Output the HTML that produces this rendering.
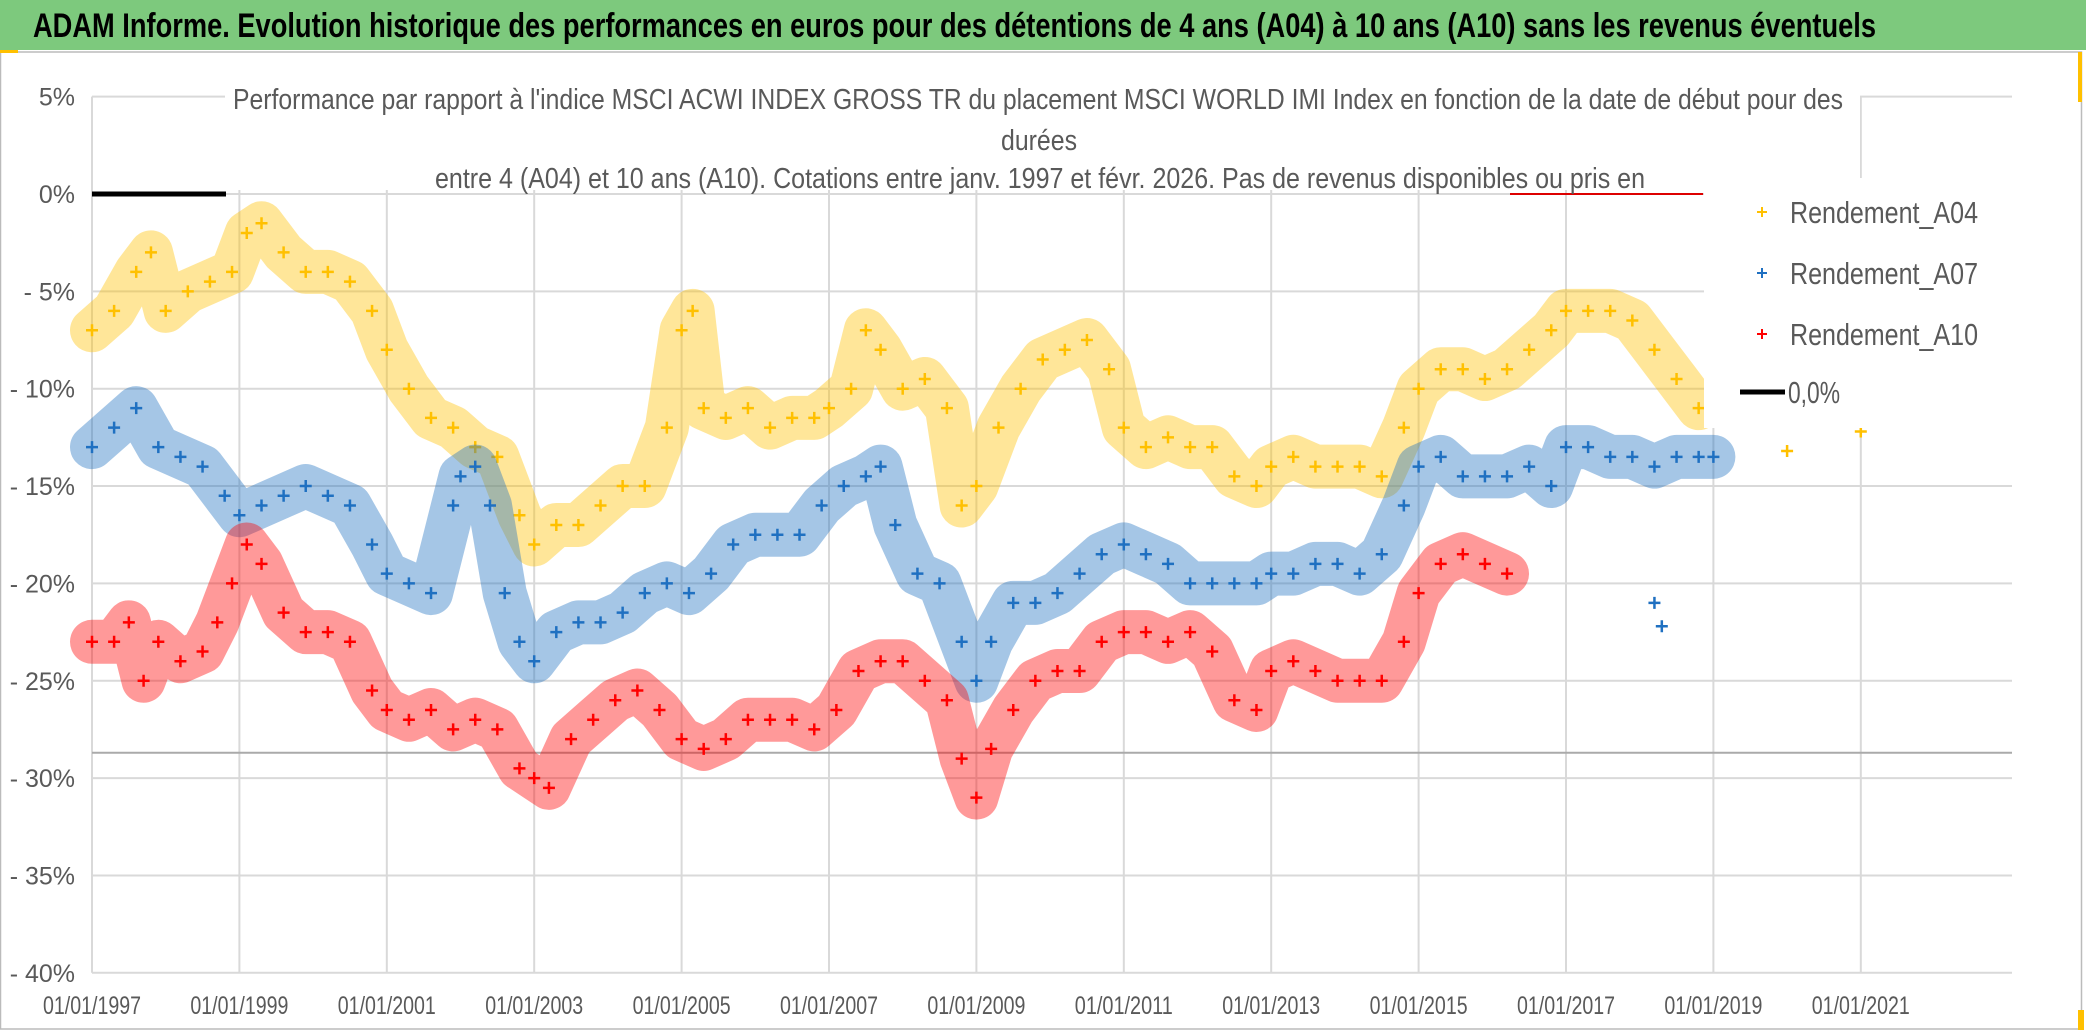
<!DOCTYPE html>
<html><head><meta charset="utf-8"><style>
body{margin:0;width:2086px;height:1031px;overflow:hidden;background:#fff;font-family:"Liberation Sans Narrow","Liberation Sans",sans-serif}
</style></head><body>
<svg width="2086" height="1031" style="position:absolute;left:0;top:0">
<rect x="0" y="0" width="2086" height="50" fill="#7DC97D"/>
<text x="33" y="37" font-size="34" font-weight="bold" fill="#000" textLength="1843" lengthAdjust="spacingAndGlyphs">ADAM Informe. Evolution historique des performances en euros pour des détentions de 4 ans (A04) à 10 ans (A10) sans les revenus éventuels</text>
<rect x="0.5" y="52" width="2081" height="977" fill="none" stroke="#bbb" stroke-width="1.5"/>
<rect x="0" y="50" width="18" height="3" fill="#FFC000"/>
<rect x="2078" y="52" width="4" height="50" fill="#FFC000"/>
<rect x="2078" y="1010" width="6" height="20" fill="#FFC000"/>
<g id="grid"></g>
<g id="marks"></g>
<rect x="225" y="82" width="1635" height="108" fill="#fff"/>
<g fill="#595959" font-size="29" text-anchor="middle">
<text x="1038" y="109" textLength="1610" lengthAdjust="spacingAndGlyphs">Performance par rapport à l'indice MSCI ACWI INDEX GROSS TR  du placement MSCI WORLD IMI Index en fonction de la date de début pour des</text>
<text x="1039" y="150" textLength="76" lengthAdjust="spacingAndGlyphs">durées</text>
<text x="1040" y="188" textLength="1210" lengthAdjust="spacingAndGlyphs">entre 4 (A04) et 10 ans (A10). Cotations entre janv. 1997 et févr. 2026. Pas de revenus disponibles ou pris en</text>
</g>
<g id="legend">
<rect x="1704" y="178" width="310" height="250" fill="#fff"/>
</g>
</svg>
<script>
const years=[1997,1999,2001,2003,2005,2007,2009,2011,2013,2015,2017,2019,2021];
const yTicks=[5,0,-5,-10,-15,-20,-25,-30,-35,-40];
const a04T=[1997.0,1997.3,1997.6,1997.8,1998.0,1998.3,1998.6,1998.9,1999.1,1999.3,1999.6,1999.9,2000.2,2000.5,2000.8,2001.0,2001.3,2001.6,2001.9,2002.2,2002.5,2002.8,2003.0,2003.3,2003.6,2003.9,2004.2,2004.5,2004.8,2005.0,2005.15,2005.3,2005.6,2005.9,2006.2,2006.5,2006.8,2007.0,2007.3,2007.5,2007.7,2008.0,2008.3,2008.6,2008.8,2009.0,2009.3,2009.6,2009.9,2010.2,2010.5,2010.8,2011.0,2011.3,2011.6,2011.9,2012.2,2012.5,2012.8,2013.0,2013.3,2013.6,2013.9,2014.2,2014.5,2014.8,2015.0,2015.3,2015.6,2015.9,2016.2,2016.5,2016.8,2017.0,2017.3,2017.6,2017.9,2018.2,2018.5,2018.8];
const a04V=[-7,-6,-4,-3,-6,-5,-4.5,-4,-2,-1.5,-3,-4,-4,-4.5,-6,-8,-10,-11.5,-12,-13,-13.5,-16.5,-18,-17,-17,-16,-15,-15,-12,-7,-6,-11,-11.5,-11,-12,-11.5,-11.5,-11,-10,-7,-8,-10,-9.5,-11,-16,-15,-12,-10,-8.5,-8,-7.5,-9,-12,-13,-12.5,-13,-13,-14.5,-15,-14,-13.5,-14,-14,-14,-14.5,-12,-10,-9,-9,-9.5,-9,-8,-7,-6,-6,-6,-6.5,-8,-9.5,-11];
const a07T=[1997.0,1997.3,1997.6,1997.9,1998.2,1998.5,1998.8,1999.0,1999.3,1999.6,1999.9,2000.2,2000.5,2000.8,2001.0,2001.3,2001.6,2001.9,2002.0,2002.2,2002.4,2002.6,2002.8,2003.0,2003.3,2003.6,2003.9,2004.2,2004.5,2004.8,2005.1,2005.4,2005.7,2006.0,2006.3,2006.6,2006.9,2007.2,2007.5,2007.7,2007.9,2008.2,2008.5,2008.8,2009.0,2009.2,2009.5,2009.8,2010.1,2010.4,2010.7,2011.0,2011.3,2011.6,2011.9,2012.2,2012.5,2012.8,2013.0,2013.3,2013.6,2013.9,2014.2,2014.5,2014.8,2015.0,2015.3,2015.6,2015.9,2016.2,2016.5,2016.8,2017.0,2017.3,2017.6,2017.9,2018.2,2018.5,2018.8,2019.0];
const a07V=[-13,-12,-11,-13,-13.5,-14,-15.5,-16.5,-16,-15.5,-15,-15.5,-16,-18,-19.5,-20,-20.5,-16,-14.5,-14,-16,-20.5,-23,-24,-22.5,-22,-22,-21.5,-20.5,-20,-20.5,-19.5,-18,-17.5,-17.5,-17.5,-16,-15,-14.5,-14,-17,-19.5,-20,-23,-25,-23,-21,-21,-20.5,-19.5,-18.5,-18,-18.5,-19,-20,-20,-20,-20,-19.5,-19.5,-19,-19,-19.5,-18.5,-16,-14,-13.5,-14.5,-14.5,-14.5,-14,-15,-13,-13,-13.5,-13.5,-14,-13.5,-13.5,-13.5];
const a10T=[1997.0,1997.3,1997.5,1997.7,1997.9,1998.2,1998.5,1998.7,1998.9,1999.1,1999.3,1999.6,1999.9,2000.2,2000.5,2000.8,2001.0,2001.3,2001.6,2001.9,2002.2,2002.5,2002.8,2003.0,2003.2,2003.5,2003.8,2004.1,2004.4,2004.7,2005.0,2005.3,2005.6,2005.9,2006.2,2006.5,2006.8,2007.1,2007.4,2007.7,2008.0,2008.3,2008.6,2008.8,2009.0,2009.2,2009.5,2009.8,2010.1,2010.4,2010.7,2011.0,2011.3,2011.6,2011.9,2012.2,2012.5,2012.8,2013.0,2013.3,2013.6,2013.9,2014.2,2014.5,2014.8,2015.0,2015.3,2015.6,2015.9,2016.2];
const a10V=[-23,-23,-22,-25,-23,-24,-23.5,-22,-20,-18,-19,-21.5,-22.5,-22.5,-23,-25.5,-26.5,-27,-26.5,-27.5,-27,-27.5,-29.5,-30,-30.5,-28,-27,-26,-25.5,-26.5,-28,-28.5,-28,-27,-27,-27,-27.5,-26.5,-24.5,-24,-24,-25,-26,-29,-31,-28.5,-26.5,-25,-24.5,-24.5,-23,-22.5,-22.5,-23,-22.5,-23.5,-26,-26.5,-24.5,-24,-24.5,-25,-25,-25,-23,-20.5,-19,-18.5,-19,-19.5];
const extraT=[2020.0,2021.0,2018.2,2018.3];
const extraV=[-13.2,-12.2,-21,-22.2];
const NS='http://www.w3.org/2000/svg';
const X0=92,XW=147.4/2,Y0=194,YS=19.47;
function xs(t){return X0+(t-1997)*XW;}
function ys(v){return Y0-v*YS;}
function mk(tag,at,parent){const e=document.createElementNS(NS,tag);for(const k in at)e.setAttribute(k,at[k]);parent.appendChild(e);return e;}
const svg=document.querySelector('svg');
const grid=document.getElementById('grid'),marks=document.getElementById('marks');
yTicks.forEach(v=>{
 const l=mk('line',{x1:X0,x2:2012,y1:ys(v),y2:ys(v),stroke:'#d9d9d9','stroke-width':2},grid);
 
 
 const t=mk('text',{x:75,y:ys(v)+9,'font-size':25,fill:'#595959','text-anchor':'end'},grid);
 t.textContent=(v<0?'- '+(-v):v)+'%';
 
 
});
years.forEach(y=>{
 const l=mk('line',{x1:xs(y),x2:xs(y),y1:ys(5),y2:ys(-40),stroke:'#d9d9d9','stroke-width':2},grid);
 
 
 const t=mk('text',{x:xs(y),y:1014,'font-size':25,fill:'#595959','text-anchor':'middle',textLength:98,lengthAdjust:'spacingAndGlyphs'},grid);
 t.textContent='01/01/'+y;
 
 
});
const ref=mk('line',{x1:X0,x2:2012,y1:ys(-28.7),y2:ys(-28.7),stroke:'#aaa','stroke-width':2},grid);


function series(T,V,col,name){
 const g=mk('g',{},marks);
 
 
 const pts=T.map((t,i)=>xs(t)+','+ys(V[i])).join(' ');
 mk('polyline',{points:pts,fill:'none',stroke:col,'stroke-width':44,'stroke-opacity':0.4,'stroke-linejoin':'round','stroke-linecap':'round'},g);
 T.forEach((t,i)=>{
  const x=xs(t),y=ys(V[i]);
  const p=mk('path',{d:`M${x-6},${y}h12M${x},${y-6}v12`,stroke:col,'stroke-width':2.5},g);
  
  
 });
}
series(a04T,a04V,'#FFC000','series-a04');
series(a07T,a07V,'#1F70C1','series-a07');
series(a10T,a10V,'#FF0000','series-a10');
extraT.forEach((t,i)=>{
 const x=xs(t),y=ys(extraV[i]);
 const p=mk('path',{d:`M${x-6},${y}h12M${x},${y-6}v12`,stroke:i<2?'#FFC000':'#1F70C1','stroke-width':2.5},marks);
 
 
});
const z=mk('line',{x1:X0,x2:226,y1:ys(0),y2:ys(0),stroke:'#000','stroke-width':5},marks);


const zr=mk('line',{x1:1510,x2:1703,y1:ys(0),y2:ys(0),stroke:'#d00','stroke-width':2},marks);


const lg=document.getElementById('legend');
svg.appendChild(lg);
[['Rendement_A04','#FFC000',212],['Rendement_A07','#1F70C1',273],['Rendement_A10','#FF0000',334]].forEach(e=>{
 const p=mk('path',{d:`M${1757},${e[2]}h10M${1762},${e[2]-5}v10`,stroke:e[1],'stroke-width':2},lg);
 
 
 const t=mk('text',{x:1790,y:e[2]+11,'font-size':31,fill:'#595959',textLength:188,lengthAdjust:'spacingAndGlyphs'},lg);
 t.textContent=e[0];
 
 
});
const ll=mk('line',{x1:1740,x2:1785,y1:392,y2:392,stroke:'#000','stroke-width':5},lg);


const lt=mk('text',{x:1788,y:403,'font-size':31,fill:'#595959',textLength:52,lengthAdjust:'spacingAndGlyphs'},lg);
lt.textContent='0,0%';


</script>
</body></html>
